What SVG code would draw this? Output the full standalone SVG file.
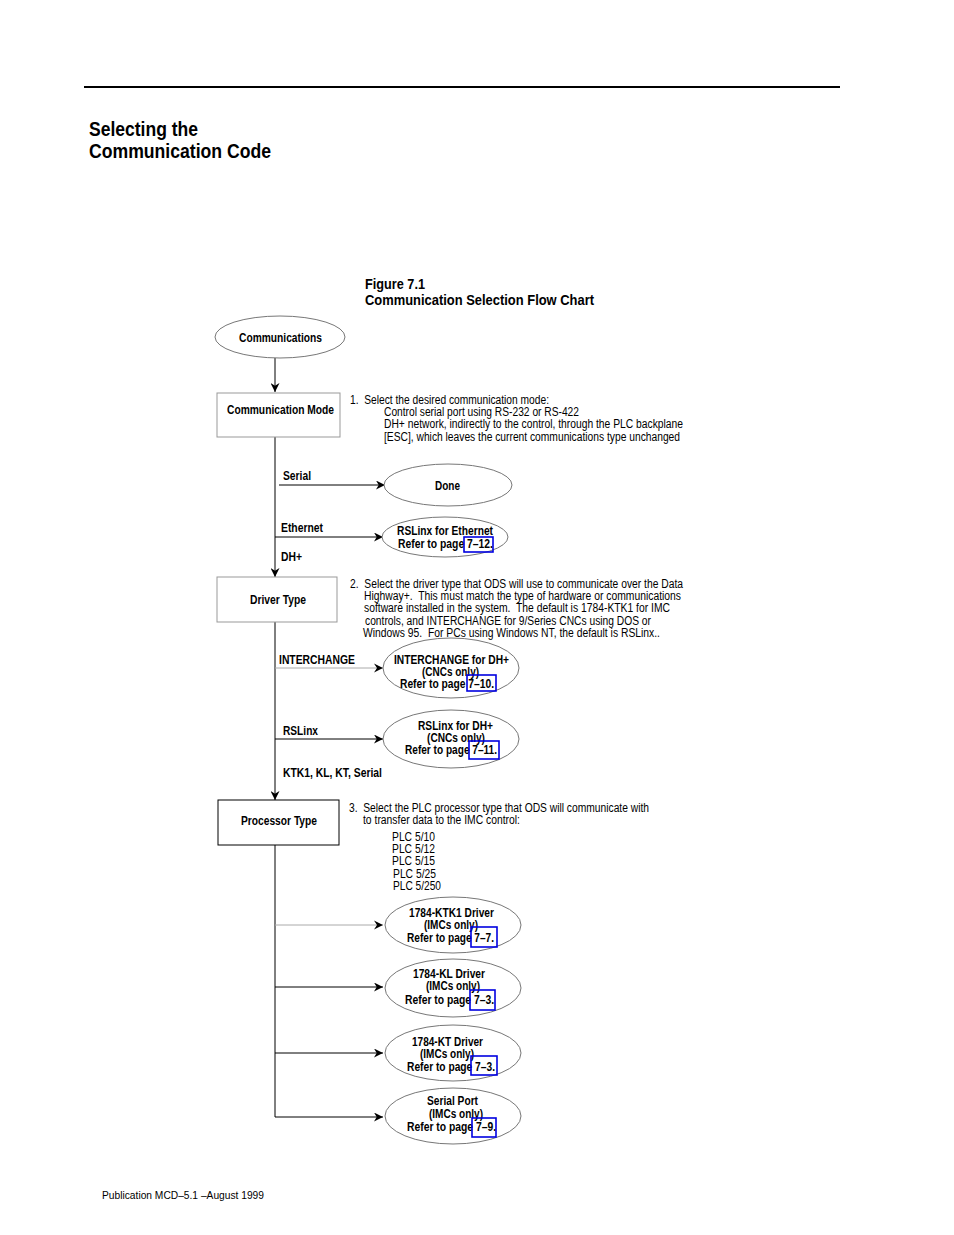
<svg xmlns="http://www.w3.org/2000/svg" width="954" height="1235" viewBox="0 0 954 1235" xml:space="preserve">
<style>
text{font-family:"Liberation Sans",Arial,sans-serif;fill:#000;white-space:pre}
.b{font-weight:bold;font-size:12px}
.t{font-size:12px}
.h{font-weight:bold;font-size:21px}
.f{font-weight:bold;font-size:15px}
.ell{fill:#fff;stroke:#777;stroke-width:1}
.box{fill:#fff;stroke:#999;stroke-width:1}
.box2{fill:#fff;stroke:#000;stroke-width:1}
.ln{stroke:#000;stroke-width:1;fill:none}
.lg{stroke:#aaa;stroke-width:1;fill:none}
.lk{fill:none;stroke:#0000e0;stroke-width:1.6}
</style>
<defs>
<marker id="ar" viewBox="0 0 10 10" refX="10" refY="5" markerWidth="9" markerHeight="9" markerUnits="userSpaceOnUse" orient="auto">
<path d="M0,0 L10,5 L0,10 L3,5 z" fill="#000"/>
</marker>
</defs>
<rect x="0" y="0" width="954" height="1235" fill="#fff"/>
<line x1="84" y1="87" x2="840" y2="87" stroke="#000" stroke-width="2"/>
<text class="h" x="89" y="136" textLength="109" lengthAdjust="spacingAndGlyphs">Selecting the</text>
<text class="h" x="89" y="158" textLength="182" lengthAdjust="spacingAndGlyphs">Communication Code</text>
<text class="f" x="365" y="289" textLength="60" lengthAdjust="spacingAndGlyphs">Figure 7.1</text>
<text class="f" x="365" y="305" textLength="229" lengthAdjust="spacingAndGlyphs">Communication Selection Flow Chart</text>
<g id="connectors">
<line class="ln" x1="275" y1="358" x2="275" y2="392" marker-end="url(#ar)"/>
<line class="ln" x1="275" y1="437" x2="275" y2="577" marker-end="url(#ar)"/>
<line class="ln" x1="279" y1="485" x2="385" y2="485" marker-end="url(#ar)"/>
<line class="ln" x1="275" y1="537" x2="383" y2="537" marker-end="url(#ar)"/>
<line class="ln" x1="275" y1="622" x2="275" y2="800" marker-end="url(#ar)"/>
<line class="lg" x1="275" y1="668" x2="383" y2="668"/>
<path d="M374,663.5 L383,668 L374,672.5 L377,668 z" fill="#000"/>
<line class="ln" x1="275" y1="739" x2="383" y2="739" marker-end="url(#ar)"/>
<line class="ln" x1="275" y1="845" x2="275" y2="1117"/>
<line class="lg" x1="275" y1="925" x2="383" y2="925"/>
<path d="M374,920.5 L383,925 L374,929.5 L377,925 z" fill="#000"/>
<line class="ln" x1="275" y1="987" x2="383" y2="987" marker-end="url(#ar)"/>
<line class="ln" x1="275" y1="1053" x2="383" y2="1053" marker-end="url(#ar)"/>
<line class="ln" x1="275" y1="1117" x2="383" y2="1117" marker-end="url(#ar)"/>
<text class="b" x="283" y="480" textLength="28" lengthAdjust="spacingAndGlyphs">Serial</text>
<text class="b" x="281" y="532" textLength="42" lengthAdjust="spacingAndGlyphs">Ethernet</text>
<text class="b" x="281" y="561" textLength="21" lengthAdjust="spacingAndGlyphs">DH+</text>
<text class="b" x="279" y="664" textLength="76" lengthAdjust="spacingAndGlyphs">INTERCHANGE</text>
<text class="b" x="283" y="735" textLength="35" lengthAdjust="spacingAndGlyphs">RSLinx</text>
<text class="b" x="283" y="777" textLength="99" lengthAdjust="spacingAndGlyphs">KTK1, KL, KT, Serial</text>
</g>
<g id="n-communications">
<ellipse class="ell" cx="280" cy="337" rx="65" ry="21"/>
<text class="b" x="239" y="342" textLength="83" lengthAdjust="spacingAndGlyphs">Communications</text>
</g>
<g id="n-commmode">
<rect class="box" x="217" y="393" width="123" height="44"/>
<text class="b" x="227" y="414" textLength="107" lengthAdjust="spacingAndGlyphs">Communication Mode</text>
</g>
<g id="t-step1">
<text class="t" x="350" y="404" textLength="199" lengthAdjust="spacingAndGlyphs">1.  Select the desired communication mode:</text>
<text class="t" x="384" y="416" textLength="195" lengthAdjust="spacingAndGlyphs">Control serial port using RS-232 or RS-422</text>
<text class="t" x="384" y="428" textLength="299" lengthAdjust="spacingAndGlyphs">DH+ network, indirectly to the control, through the PLC backplane</text>
<text class="t" x="384" y="441" textLength="296" lengthAdjust="spacingAndGlyphs">[ESC], which leaves the current communications type unchanged</text>
</g>
<g id="n-done">
<ellipse class="ell" cx="448" cy="485" rx="64" ry="21"/>
<text class="b" x="435" y="490" textLength="25" lengthAdjust="spacingAndGlyphs">Done</text>
</g>
<g id="n-rslinx-eth">
<ellipse class="ell" cx="445" cy="537" rx="63" ry="20"/>
<text class="b" x="397" y="535" textLength="96" lengthAdjust="spacingAndGlyphs">RSLinx for Ethernet</text>
<text class="b" x="398" y="548" textLength="95" lengthAdjust="spacingAndGlyphs">Refer to page 7–12.</text>
<rect class="lk" x="464" y="537" width="29" height="15"/>
</g>
<g id="n-driver">
<rect class="box" x="217" y="577" width="120" height="45"/>
<text class="b" x="250" y="604" textLength="56" lengthAdjust="spacingAndGlyphs">Driver Type</text>
</g>
<g id="t-step2">
<text class="t" x="350" y="588" textLength="333" lengthAdjust="spacingAndGlyphs">2.  Select the driver type that ODS will use to communicate over the Data</text>
<text class="t" x="364" y="600" textLength="317" lengthAdjust="spacingAndGlyphs">Highway+.  This must match the type of hardware or communications</text>
<text class="t" x="364" y="612" textLength="306" lengthAdjust="spacingAndGlyphs">software installed in the system.  The default is 1784-KTK1 for IMC</text>
<text class="t" x="365" y="625" textLength="286" lengthAdjust="spacingAndGlyphs">controls, and INTERCHANGE for 9/Series CNCs using DOS or</text>
<text class="t" x="363" y="637" textLength="297" lengthAdjust="spacingAndGlyphs">Windows 95.  For PCs using Windows NT, the default is RSLinx..</text>
</g>
<g id="n-interchange">
<ellipse class="ell" cx="451" cy="668" rx="68" ry="30"/>
<text class="b" x="394" y="664" textLength="115" lengthAdjust="spacingAndGlyphs">INTERCHANGE for DH+</text>
<text class="b" x="422" y="676" textLength="57" lengthAdjust="spacingAndGlyphs">(CNCs only)</text>
<text class="b" x="400" y="688" textLength="94" lengthAdjust="spacingAndGlyphs">Refer to page 7–10.</text>
<rect class="lk" x="467" y="675" width="29" height="16"/>
</g>
<g id="n-rslinx-dh">
<ellipse class="ell" cx="451" cy="739" rx="68" ry="29"/>
<text class="b" x="418" y="730" textLength="75" lengthAdjust="spacingAndGlyphs">RSLinx for DH+</text>
<text class="b" x="427" y="742" textLength="58" lengthAdjust="spacingAndGlyphs">(CNCs only)</text>
<text class="b" x="405" y="754" textLength="92" lengthAdjust="spacingAndGlyphs">Refer to page 7–11.</text>
<rect class="lk" x="469" y="741" width="30" height="18"/>
</g>
<g id="n-processor">
<rect class="box2" x="218" y="800" width="121" height="45"/>
<text class="b" x="241" y="825" textLength="76" lengthAdjust="spacingAndGlyphs">Processor Type</text>
</g>
<g id="t-step3">
<text class="t" x="349" y="812" textLength="300" lengthAdjust="spacingAndGlyphs">3.  Select the PLC processor type that ODS will communicate with</text>
<text class="t" x="363" y="824" textLength="157" lengthAdjust="spacingAndGlyphs">to transfer data to the IMC control:</text>
<text class="t" x="392" y="841" textLength="43" lengthAdjust="spacingAndGlyphs">PLC 5/10</text>
<text class="t" x="392" y="853" textLength="43" lengthAdjust="spacingAndGlyphs">PLC 5/12</text>
<text class="t" x="392" y="865" textLength="43" lengthAdjust="spacingAndGlyphs">PLC 5/15</text>
<text class="t" x="393" y="878" textLength="43" lengthAdjust="spacingAndGlyphs">PLC 5/25</text>
<text class="t" x="393" y="890" textLength="48" lengthAdjust="spacingAndGlyphs">PLC 5/250</text>
</g>
<g id="n-ktk1">
<ellipse class="ell" cx="453" cy="925" rx="68" ry="28"/>
<text class="b" x="409" y="917" textLength="85" lengthAdjust="spacingAndGlyphs">1784-KTK1 Driver</text>
<text class="b" x="424" y="929" textLength="54" lengthAdjust="spacingAndGlyphs">(IMCs only)</text>
<text class="b" x="407" y="942" textLength="87" lengthAdjust="spacingAndGlyphs">Refer to page 7–7.</text>
<rect class="lk" x="471" y="927" width="26" height="20"/>
</g>
<g id="n-kl">
<ellipse class="ell" cx="453" cy="988" rx="68" ry="29"/>
<text class="b" x="413" y="978" textLength="72" lengthAdjust="spacingAndGlyphs">1784-KL Driver</text>
<text class="b" x="426" y="990" textLength="54" lengthAdjust="spacingAndGlyphs">(IMCs only)</text>
<text class="b" x="405" y="1004" textLength="89" lengthAdjust="spacingAndGlyphs">Refer to page 7–3.</text>
<rect class="lk" x="470" y="990" width="25" height="20"/>
</g>
<g id="n-kt">
<ellipse class="ell" cx="453" cy="1053" rx="68" ry="28"/>
<text class="b" x="412" y="1046" textLength="71" lengthAdjust="spacingAndGlyphs">1784-KT Driver</text>
<text class="b" x="420" y="1058" textLength="54" lengthAdjust="spacingAndGlyphs">(IMCs only)</text>
<text class="b" x="407" y="1071" textLength="88" lengthAdjust="spacingAndGlyphs">Refer to page 7–3.</text>
<rect class="lk" x="471" y="1056" width="26" height="19"/>
</g>
<g id="n-serialport">
<ellipse class="ell" cx="453" cy="1116" rx="68" ry="28"/>
<text class="b" x="427" y="1105" textLength="51" lengthAdjust="spacingAndGlyphs">Serial Port</text>
<text class="b" x="429" y="1118" textLength="54" lengthAdjust="spacingAndGlyphs">(IMCs only)</text>
<text class="b" x="407" y="1131" textLength="89" lengthAdjust="spacingAndGlyphs">Refer to page 7–9.</text>
<rect class="lk" x="472" y="1118" width="24" height="19"/>
</g>
<text class="t" x="102" y="1199" style="font-size:11px" textLength="162" lengthAdjust="spacingAndGlyphs">Publication MCD–5.1 –August 1999</text>
</svg>
